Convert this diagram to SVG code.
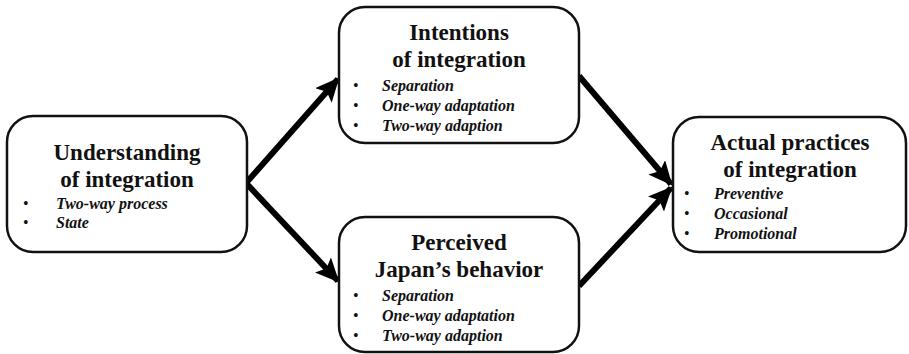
<svg xmlns="http://www.w3.org/2000/svg" width="909" height="354" viewBox="0 0 909 354">
<style>
.box{fill:#fff;stroke:#111;stroke-width:2.5}
text{font-family:'Liberation Serif','Times New Roman',Tinos,'DejaVu Serif','Noto Serif',FreeSerif,serif;fill:#111}
.t{font-weight:bold;font-size:23px;text-anchor:middle}
.b{font-weight:bold;font-style:italic;font-size:16px}
.dot{font-size:16px}
.c{fill:none;stroke:#000;stroke-width:6;marker-end:url(#ah)}
</style>
<defs>
<marker id="ah" markerUnits="userSpaceOnUse" markerWidth="24" markerHeight="22" viewBox="0 0 24 22" refX="22" refY="11" orient="auto">
<path d="M0,0 L24,11 L0,22 L5,11 Z" fill="#000"/>
</marker>
</defs>
<rect width="909" height="354" fill="#fff"/>
<g id="connectors">
<path class="c" d="M246,183 L338,79"/>
<path class="c" d="M246,183 L338,281"/>
<path class="c" d="M579,76 L671,184"/>
<path class="c" d="M579,286 L671,188"/>
</g>
<g id="understanding">
<rect class="box" x="7" y="116" width="240" height="136" rx="26"/>
<text class="t" x="127" y="160" font-family="Liberation Serif, serif">Understanding</text>
<text class="t" x="127" y="187" font-family="Liberation Serif, serif">of integration</text>
<text class="dot" x="23" y="209">•</text>
<text class="b" x="56" y="209">Two-way process</text>
<text class="dot" x="23" y="228">•</text>
<text class="b" x="56" y="228">State</text>
</g>
<g id="intentions">
<rect class="box" x="339" y="7" width="240" height="136" rx="26"/>
<text class="t" x="459" y="40">Intentions</text>
<text class="t" x="459" y="67">of integration</text>
<text class="dot" x="353" y="91">•</text>
<text class="b" x="382" y="91">Separation</text>
<text class="dot" x="353" y="111">•</text>
<text class="b" x="382" y="111">One-way adaptation</text>
<text class="dot" x="353" y="131">•</text>
<text class="b" x="382" y="131">Two-way adaption</text>
</g>
<g id="perceived">
<rect class="box" x="339" y="217" width="240" height="135" rx="26"/>
<text class="t" x="459" y="250">Perceived</text>
<text class="t" x="459" y="277">Japan’s behavior</text>
<text class="dot" x="353" y="301">•</text>
<text class="b" x="382" y="301">Separation</text>
<text class="dot" x="353" y="321">•</text>
<text class="b" x="382" y="321">One-way adaptation</text>
<text class="dot" x="353" y="341">•</text>
<text class="b" x="382" y="341">Two-way adaption</text>
</g>
<g id="actual">
<rect class="box" x="673" y="117" width="233" height="135" rx="26"/>
<text class="t" x="790" y="150">Actual practices</text>
<text class="t" x="790" y="177">of integration</text>
<text class="dot" x="684" y="199">•</text>
<text class="b" x="714" y="199">Preventive</text>
<text class="dot" x="684" y="219">•</text>
<text class="b" x="714" y="219">Occasional</text>
<text class="dot" x="684" y="239">•</text>
<text class="b" x="714" y="239">Promotional</text>
</g>
</svg>
